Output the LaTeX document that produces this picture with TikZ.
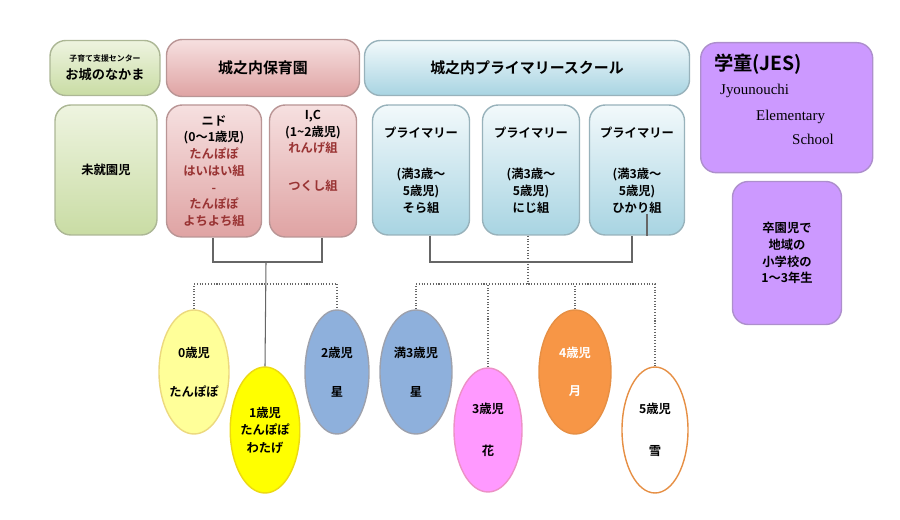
\documentclass[tikz,border=0pt]{standalone}
\usepackage{fontspec}
\setmainfont{Noto Sans CJK JP}[BoldFont={Noto Sans CJK JP Bold}]
\newfontfamily\engfont{Liberation Serif}
\usetikzlibrary{shapes.geometric}
\definecolor{grnA}{HTML}{EEF4E0}\definecolor{grnB}{HTML}{C9DCA4}
\definecolor{pnkA}{HTML}{F6E0E0}\definecolor{pnkB}{HTML}{DFA3A3}
\definecolor{bluA}{HTML}{F2F9FB}\definecolor{bluB}{HTML}{A8D4E2}
\definecolor{purp}{HTML}{CC99FF}
\definecolor{txtred}{HTML}{993333}
\definecolor{elyel}{HTML}{FFFF99}\definecolor{elyel2}{HTML}{FFFF00}
\definecolor{elblu}{HTML}{8EB0DC}\definecolor{elpnk}{HTML}{FF99FF}
\definecolor{elorg}{HTML}{F79646}
\tikzset{
  box/.style={rounded corners=9pt,draw=#1!60!gray,line width=0.8pt,align=center,font=\bfseries\fontsize{7}{9.5}\selectfont,inner sep=2pt},
  grnbox/.style={box=grnB,top color=grnA,bottom color=grnB},
  pnkbox/.style={box=pnkB,top color=pnkA,bottom color=pnkB},
  blubox/.style={box=bluB,top color=bluA,bottom color=bluB},
  purbox/.style={box=purp,fill=purp},
  kid/.style={ellipse,draw=#1!70!brown,line width=0.8pt,align=center,inner sep=0pt,font=\bfseries\fontsize{7}{10}\selectfont},
  tie/.style={draw=gray!80!black,line width=0.6pt},
  dots/.style={draw=gray!80!black,line width=0.6pt,densely dotted}
}
\begin{document}
\begin{tikzpicture}[x=0.02cm,y=-0.02cm]
  \useasboundingbox (0,0) rectangle (900,520);

  % header row
  \node[grnbox,minimum width=110*0.02cm,minimum height=55*0.02cm] (center) at (105,68)
    {\fontsize{4.5}{5}\selectfont 子育て支援センター\\[1pt]\fontsize{7.5}{8}\selectfont お城のなかま};
  \node[pnkbox,minimum width=193*0.02cm,minimum height=57*0.02cm,font=\bfseries\fontsize{8.5}{10}\selectfont] (hoiku) at (263,68) {城之内保育園};
  \node[blubox,minimum width=325*0.02cm,minimum height=55*0.02cm,font=\bfseries\fontsize{8.5}{10}\selectfont] (prim) at (527,68) {城之内プライマリースクール};
  \node[purbox,minimum width=172*0.02cm,minimum height=130*0.02cm,anchor=north west,align=left] (jes) at (700,42) {};
  \node[anchor=north west,font=\bfseries\fontsize{11}{12}\selectfont] (jest) at (708,48) {学童(JES)};
  \node[anchor=north west,font=\engfont\fontsize{8.5}{10}\selectfont] (jes1) at (714,78) {Jyounouchi};
  \node[anchor=north west,font=\engfont\fontsize{8.5}{10}\selectfont] (jes2) at (750,104) {Elementary};
  \node[anchor=north west,font=\engfont\fontsize{8.5}{10}\selectfont] (jes3) at (786,128) {School};
  \node[purbox,minimum width=109*0.02cm,minimum height=143*0.02cm] (grad) at (787,253)
    {卒園児で\\地域の\\小学校の\\1〜3年生};

  % class row
  \node[grnbox,minimum width=102*0.02cm,minimum height=130*0.02cm] (mishu) at (106,170) {未就園児};
  \node[pnkbox,minimum width=95*0.02cm,minimum height=132*0.02cm] (nido) at (214,171)
    {ニド\\(0〜1歳児)\\\color{txtred}たんぽぽ\\\color{txtred}はいはい組\\\color{txtred}-\\\color{txtred}たんぽぽ\\\color{txtred}よちよち組};
  \node[pnkbox,minimum width=87*0.02cm,minimum height=132*0.02cm] (ic) at (313,171)
    {I,C\\(1\textasciitilde 2歳児)\\\color{txtred}れんげ組\\[12pt]\color{txtred}つくし組\\[14pt]};
  \node[blubox,minimum width=97*0.02cm,minimum height=130*0.02cm] (sora) at (421,170)
    {プライマリー\\[14pt](満3歳〜\\5歳児)\\そら組};
  \node[blubox,minimum width=97*0.02cm,minimum height=130*0.02cm] (niji) at (531,170)
    {プライマリー\\[14pt](満3歳〜\\5歳児)\\にじ組};
  \node[blubox,minimum width=95*0.02cm,minimum height=130*0.02cm] (hikari) at (637,170)
    {プライマリー\\[14pt](満3歳〜\\5歳児)\\ひかり組};

  % children
  \node[kid=elyel,fill=elyel,minimum width=70*0.02cm,minimum height=124*0.02cm] (k0) at (194,372) {0歳児\\[12pt]たんぽぽ};
  \node[kid=elyel2,fill=elyel2,minimum width=66*0.02cm,minimum height=126*0.02cm] (k1) at (265,430) {1歳児\\たんぽぽ\\わたげ};
  \node[kid=elblu,fill=elblu,minimum width=64*0.02cm,minimum height=124*0.02cm] (k2) at (337,372) {2歳児\\[12pt]星};
  \node[kid=elblu,fill=elblu,minimum width=72*0.02cm,minimum height=124*0.02cm] (k3m) at (416,372) {満3歳児\\[12pt]星};
  \node[kid=elpnk,fill=elpnk,minimum width=68*0.02cm,minimum height=124*0.02cm] (k3) at (488,430) {3歳児\\[14pt]花};
  \node[kid=elorg,fill=elorg,minimum width=72*0.02cm,minimum height=124*0.02cm,text=white] (k4) at (575,372) {4歳児\\[12pt]月};
  \node[kid=elorg,fill=white,minimum width=66*0.02cm,minimum height=126*0.02cm] (k5) at (655,430) {5歳児\\[14pt]雪};

  % connectors, nursery
  \coordinate (hl) at (213,262);
  \coordinate (hr) at (322,262);
  \coordinate (hm) at (266,262);
  \draw[tie] (nido.south -| hl) -- (hl) -- (hr) -- (ic.south -| hr);
  \draw[tie] (hm) -- (k1.north);
  \draw[dots] (k0.north) -- (194,284) -- (337,284) -- (k2.north);

  % connectors, primary
  \coordinate (pl) at (430,262);
  \coordinate (pr) at (632,262);
  \coordinate (pm) at (528,262);
  \draw[tie] (sora.south -| pl) -- (pl) -- (pr) -- (hikari.south -| pr);
  \draw[tie] (647,214) -- (hikari.south -| 647,0);
  \draw[dots] (niji.south -| pm) -- (528,284);
  \draw[dots] (k3m.north) -- (416,284) -- (655,284) -- (k5.north);
  \draw[dots] (k3.north) -- (488,284);
  \draw[dots] (k4.north) -- (575,284);
\end{tikzpicture}
\end{document}
